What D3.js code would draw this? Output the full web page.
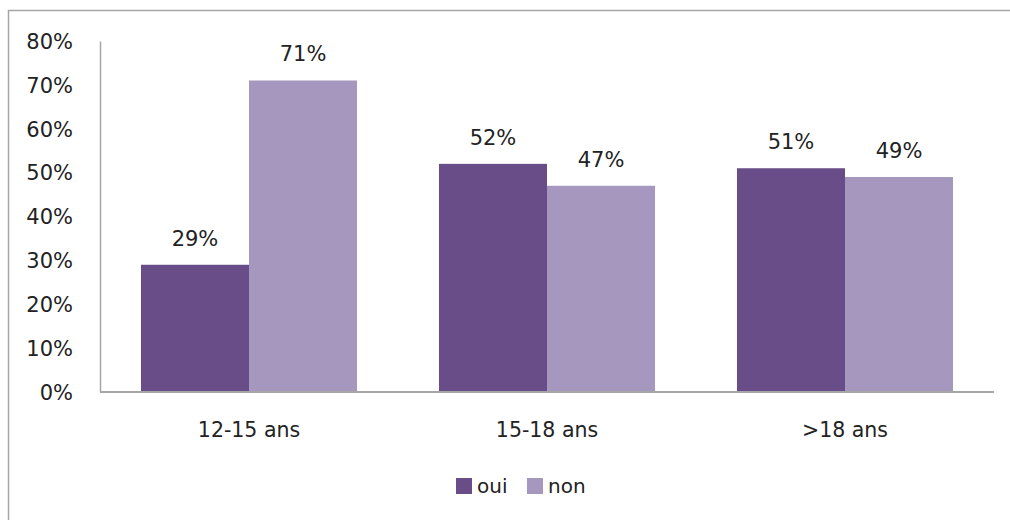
<!DOCTYPE html>
<html><head><meta charset="utf-8">
<script src="https://cdn.jsdelivr.net/npm/d3@7"></script>
<style>html,body{margin:0;background:#fff;overflow:hidden}svg{display:block}text{font-family:"DejaVu Sans",sans-serif;fill:#222}</style>
</head><body><svg id="c" width="1010" height="520"></svg>
<script>
const categories = ["12-15 ans", "15-18 ans", ">18 ans"];
const seriesNames = ["oui", "non"];
const oui = [29, 52, 51];
const non = [71, 47, 49];
const yTicks = [0, 10, 20, 30, 40, 50, 60, 70, 80];
const colors = ["#694d89", "#a597bd"];

const svg = d3.select("#c");
const m = {l: 100, r: 994, t: 41, b: 392};
svg.append("path").attr("d", "M8.5,530V10.5H1030")
  .attr("fill", "none").attr("stroke", "#a6a6a6").attr("stroke-width", 1.5);

const x = d3.scaleBand().domain(categories).range([m.l, m.r]).paddingInner(0.275).paddingOuter(0.1375);
const xs = d3.scaleBand().domain(seriesNames).range([0, x.bandwidth()]);
const y = d3.scaleLinear().domain([0, 80]).range([m.b, m.t]);

const data = categories.map((c, i) => ({c, vals: [oui[i], non[i]]}));
const g = svg.append("g");
data.forEach(d => {
  d.vals.forEach((v, j) => {
    g.append("rect").attr("x", x(d.c) + xs(seriesNames[j])).attr("y", y(v))
      .attr("width", xs.bandwidth()).attr("height", y(0) - y(v)).attr("fill", colors[j]);
    g.append("text").attr("x", x(d.c) + xs(seriesNames[j]) + xs.bandwidth() / 2).attr("y", y(v) - 19)
      .attr("text-anchor", "middle").attr("font-size", 21).text(v + "%");
  });
});

// axes
const yAxis = svg.append("g").attr("transform", `translate(${m.l},0)`)
  .call(d3.axisLeft(y).tickValues(yTicks).tickSize(0).tickPadding(27).tickFormat(d => d + "%"));
yAxis.select(".domain").attr("stroke", "#a6a6a6").attr("stroke-width", 1.5);
yAxis.selectAll("text").attr("font-size", 21).attr("dy", "0.35em").attr("fill", "#222");

const xAxis = svg.append("g").attr("transform", `translate(0,${m.b})`)
  .call(d3.axisBottom(x).tickSize(0).tickPadding(30));
xAxis.select(".domain").attr("stroke", "#a6a6a6").attr("stroke-width", 2).attr("d", `M${m.l},0H${m.r}`);
xAxis.selectAll("text").attr("font-size", 20.5).attr("fill", "#222");

// legend
const leg = [{x: 456}, {x: 527}];
leg.forEach((l, i) => {
  svg.append("rect").attr("x", l.x).attr("y", 478).attr("width", 16).attr("height", 16).attr("fill", colors[i]);
  svg.append("text").attr("x", l.x + 21).attr("y", 493).attr("font-size", 20).text(seriesNames[i]);
});
</script></body></html>
